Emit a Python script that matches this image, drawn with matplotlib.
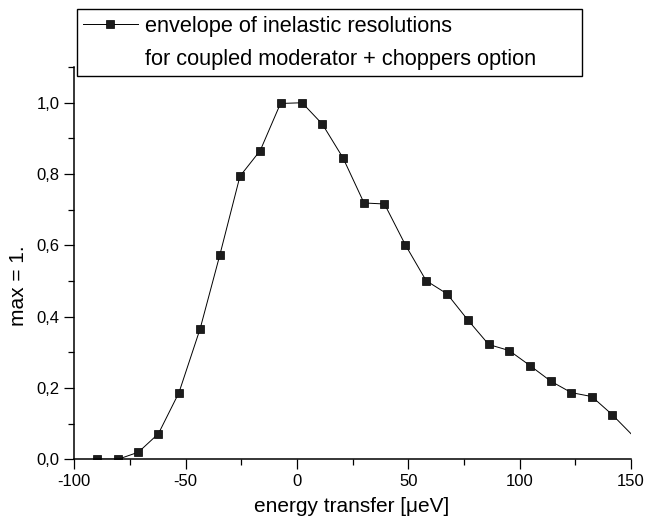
import matplotlib
matplotlib.use("Agg")
import matplotlib.pyplot as plt
from matplotlib.lines import Line2D
from matplotlib.patches import Rectangle
from matplotlib.ticker import MultipleLocator, FuncFormatter

plt.rcParams['font.family'] = ['Liberation Sans', 'DejaVu Sans']
plt.rcParams['axes.unicode_minus'] = False

# data; last point lies just beyond the axis and is clipped
energy = [-89.8, -80.4, -71.2, -62.2, -53.0, -43.5, -34.6, -25.6, -16.5, -7.4,
          2.3, 11.4, 20.7, 30.1, 39.3, 48.7, 58.0, 67.4, 76.7, 86.1,
          95.3, 104.6, 114.0, 123.2, 132.4, 141.6, 150.9]
resolution = [0.0, 0.0, 0.02, 0.072, 0.187, 0.366, 0.574, 0.794, 0.866, 0.998,
              1.0, 0.940, 0.845, 0.719, 0.716, 0.601, 0.501, 0.464, 0.391, 0.322,
              0.305, 0.263, 0.219, 0.187, 0.176, 0.125, 0.066]

legend_lines = ["envelope of inelastic resolutions",
                "for coupled moderator + choppers option"]
xlabel = "energy transfer [\u03bceV]"
ylabel = "max = 1."

fig = plt.figure(figsize=(6.45, 5.24), dpi=100)
ax = fig.add_axes([74.3 / 645, 1 - 459.3 / 524, (631 - 74.3) / 645, (459.3 - 67.1) / 524])

line, = ax.plot(energy, resolution, color='black', lw=0.7,
                marker='s', markersize=5.4, markerfacecolor='#1c1c1c',
                markeredgecolor='black', markeredgewidth=0.5,
                markevery=slice(0, len(energy) - 1))

ax.set_xlim(-100, 150)
ax.set_ylim(0, 1.1)
ax.xaxis.set_major_locator(MultipleLocator(50))
ax.xaxis.set_minor_locator(MultipleLocator(25))
ax.yaxis.set_major_locator(MultipleLocator(0.2))
ax.yaxis.set_minor_locator(MultipleLocator(0.1))
ax.yaxis.set_major_formatter(FuncFormatter(lambda v, p: f"{v:.1f}".replace('.', ',')))
ax.xaxis.set_major_formatter(FuncFormatter(lambda v, p: f"{v:.0f}"))

for s in ['top', 'right']:
    ax.spines[s].set_visible(False)
for s in ['left', 'bottom']:
    ax.spines[s].set_linewidth(1.1)

ax.tick_params(which='major', direction='out', length=7, width=0.9, labelsize=12, pad=3.5)
ax.tick_params(which='minor', direction='out', length=4, width=0.9)

ax.set_xlabel(xlabel, fontsize=15)
ax.set_ylabel(ylabel, fontsize=15)
ax.xaxis.set_label_coords(0.498, -0.097)
ax.yaxis.set_label_coords(-0.083, 0.442)

# legend
blank = Line2D([], [], linestyle='none')
leg_handle = Line2D([], [], color='black', lw=0.7, marker='s', markersize=5.4,
                    markerfacecolor='#1c1c1c', markeredgecolor='black', markeredgewidth=0.5)
fig.legend([leg_handle, blank], legend_lines, loc='upper left',
           bbox_to_anchor=(83 / 645, 1 - 16 / 524), bbox_transform=fig.transFigure,
           frameon=False, fontsize=15.7, borderpad=0, borderaxespad=0,
           handlelength=2.5, handletextpad=0.35, labelspacing=0.55)
fig.patches.append(Rectangle((77 / 645, 1 - 76 / 524), (582 - 77) / 645, (76 - 9) / 524,
                             transform=fig.transFigure, fill=False,
                             edgecolor='black', lw=1.0, zorder=1))

fig.savefig("out.png", dpi=100)
